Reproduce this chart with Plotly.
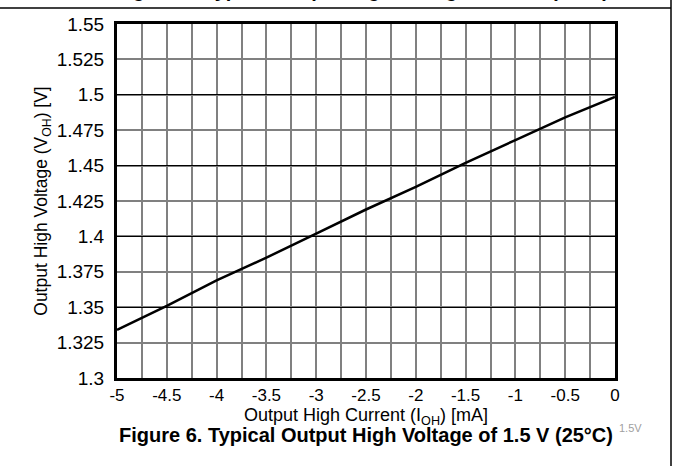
import plotly.graph_objects as go

current_ma = [-5, -4.5, -4, -3.5, -3, -2.5, -2, -1.5, -1, -0.5, 0]
voh_v = [1.334, 1.351, 1.369, 1.385, 1.402, 1.419, 1.435, 1.452, 1.468, 1.484, 1.4985]

x_ticks = [-5, -4.5, -4, -3.5, -3, -2.5, -2, -1.5, -1, -0.5, 0]
x_tick_text = ["-5", "-4.5", "-4", "-3.5", "-3", "-2.5", "-2", "-1.5", "-1", "-0.5", "0"]
y_ticks = [1.3, 1.325, 1.35, 1.375, 1.4, 1.425, 1.45, 1.475, 1.5, 1.525, 1.55]
y_tick_text = ["1.3", "1.325", "1.35", "1.375", "1.4", "1.425", "1.45", "1.475", "1.5", "1.525", "1.55"]

FONT = "Liberation Sans, Arial, sans-serif"
L, R, T, B = 117, 58, 24, 88
W, H = 673, 466
pw, ph = W - L - R, H - T - B

fig = go.Figure()
# invisible trace so the base axes are drawn
fig.add_trace(go.Scatter(x=[current_ma[0]], y=[voh_v[0]], mode="markers",
                         marker=dict(opacity=0), xaxis="x", yaxis="y",
                         showlegend=False, hoverinfo="skip"))
fig.add_trace(go.Scatter(x=current_ma, y=voh_v, mode="lines",
                         line=dict(color="black", width=2.5),
                         xaxis="x", yaxis="y2", showlegend=False, hoverinfo="skip"))

fig.update_layout(
    width=W, height=H,
    margin=dict(l=L, r=R, t=T, b=B),
    paper_bgcolor="white", plot_bgcolor="white",
    font=dict(family=FONT, size=17, color="black"),
    xaxis=dict(range=[-5, 0], tickvals=x_ticks, ticktext=x_tick_text,
               showgrid=True, gridcolor="#808080", gridwidth=1.5,
               minor=dict(dtick=0.25, showgrid=True, gridcolor="#808080", gridwidth=1.5),
               showline=True, linecolor="black", linewidth=3, mirror=True,
               ticks="", zeroline=False, tickfont=dict(size=17),
               title=dict(text="Output High Current (I<sub>OH</sub>) [mA]", font=dict(size=18), standoff=0)),
    yaxis=dict(range=[1.3, 1.55], tickvals=y_ticks, ticktext=y_tick_text,
               showgrid=True, gridcolor="#808080", gridwidth=1.5,
               showline=True, linecolor="black", linewidth=3, mirror=True,
               ticks="", zeroline=False, tickfont=dict(size=19), ticklabelstandoff=6,
               title=dict(text="Output High Voltage (V<sub>OH</sub>) [V]", font=dict(size=17.5), standoff=5)),
    yaxis2=dict(range=[1.3, 1.55], overlaying="y", dtick=0.05, tick0=1.3,
                showgrid=True, gridcolor="black", gridwidth=1.2,
                showticklabels=False, zeroline=False, showline=False),
)

# frame lines of the page
fig.add_shape(type="line", xref="paper", yref="paper",
              x0=-L / pw, x1=(671 - L) / pw, y0=(H - B - 8) / ph, y1=(H - B - 8) / ph,
              line=dict(color="black", width=1.5))
fig.add_shape(type="line", xref="paper", yref="paper",
              x0=(671 - L) / pw, x1=(671 - L) / pw, y0=-(B + 2) / ph, y1=(H - B + 2) / ph,
              line=dict(color="black", width=1.5))

fig.add_annotation(text="<b>Figure 6. Typical Output High Voltage of 1.5 V (25°C)</b>",
                   xref="paper", yref="paper", x=(366 - L) / pw, y=-(435 - (H - B)) / ph,
                   xanchor="center", yanchor="middle", showarrow=False,
                   font=dict(size=20, family=FONT))
fig.add_annotation(text="<b>Figure 5. Typical Output High Voltage of 1.2 V (25°C)</b>",
                   xref="paper", yref="paper", x=(362 - L) / pw, y=1 + 21.5 / ph,
                   xanchor="center", yanchor="bottom", showarrow=False,
                   font=dict(size=20, family=FONT))
fig.add_annotation(text="1.5V", xref="paper", yref="paper",
                   x=(630 - L) / pw, y=-(428 - (H - B)) / ph,
                   xanchor="center", yanchor="middle", showarrow=False,
                   font=dict(size=11, family=FONT, color="#a0a0a0"))

fig.write_html("out.html", config={"displayModeBar": False},
               post_script="document.body.style.margin='0';document.body.style.overflow='hidden';")
